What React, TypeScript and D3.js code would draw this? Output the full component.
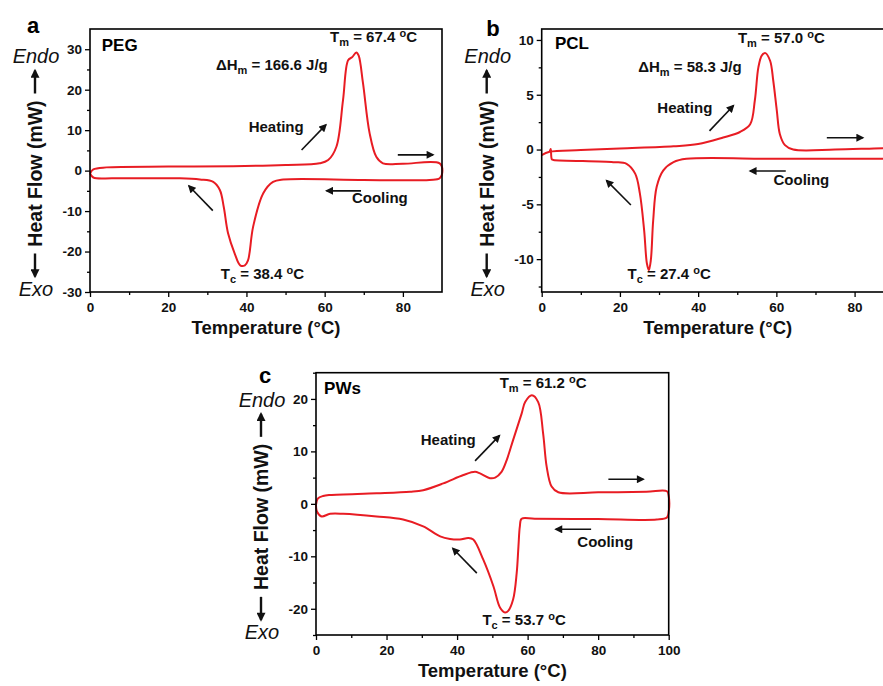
import React, { useEffect, useRef } from "react";
import * as d3 from "d3";

type Pt = [number, number];

// PEG loop: heating left -> right, then cooling right -> left
const pegHeating: Pt[] = [
  [0, -0.7], [0.85, 0.3], [4.2, 0.8], [20, 1.0], [36.6, 1.1], [50, 1.4], [58.7, 1.8],
  [60.9, 2.6], [63, 5.9], [64.7, 17.5], [66, 27.3], [67, 28], [68.1, 29.2], [68.7, 28.4],
  [69.8, 21.6], [71.5, 9.2], [73.2, 3.4], [74.9, 1.8], [80, 1.7], [89.4, 1.8], [90.1, 0.1],
];
const pegCooling: Pt[] = [
  [89.4, -1.9], [86.8, -2.3], [70, -2.3], [49.4, -2.2], [46.8, -2.8], [44.3, -5.6],
  [41.7, -13.9], [40.4, -22.2], [39.6, -23.4], [38.4, -23.4], [37.0, -20.5], [35.3, -15.5],
  [34.2, -9], [33.2, -4.8], [31.5, -2.8], [28.1, -2.2], [23, -1.9], [6, -1.9], [0.85, -1.7], [0, -0.7],
];

const pclHeating: Pt[] = [
  [0, -0.5], [2, -0.2], [10, -0.05], [20, 0.1], [33.7, 0.3], [40, 0.5], [46.4, 1.1], [50.7, 1.6],
  [53.3, 2.3], [54.5, 4.5], [55.4, 7.5], [56.3, 8.6], [57.2, 8.8], [58.4, 8.1], [59.2, 6.3],
  [60.1, 3.6], [60.9, 1.4], [62.2, 0.4], [64.3, 0], [75, 0], [85, 0.1], [88, 0.12], [90, 0.12],
];
const pclCooling: Pt[] = [
  [90, -0.85], [88, -0.85], [60, -0.85], [37, -0.85], [33.7, -1.15], [31.1, -1.9], [29.4, -3.4], [28.5, -6.5],
  [27.9, -10.1], [27.4, -11], [26.9, -10.4], [26.2, -7.4], [25.1, -4.0], [23.9, -2.2], [21.7, -1.3],
  [18.3, -1.15], [3, -0.95], [2.6, -0.9], [2.3, 0.05], [2.0, -0.25],
];

const pwsHeating: Pt[] = [
  [0, -0.2], [0.5, 1.0], [2, 1.5], [4, 1.7], [17.2, 2.0], [26.7, 2.3], [30.4, 2.6], [36.1, 3.9],
  [41.8, 5.5], [45.1, 6.1], [46.5, 5.8], [49.3, 4.9], [50.8, 5.0], [52.6, 6.1], [54.1, 8.4],
  [55.9, 12.2], [58.3, 17.2], [59.3, 19.4], [61.2, 20.7], [63, 19.4], [64.4, 13.4], [65.4, 7.1],
  [66.8, 3.3], [68.7, 2.2], [80, 2.2], [93.7, 2.3], [99.5, 2.4], [100, 1.5],
];
const pwsCooling: Pt[] = [
  [100, -1.5], [99.5, -2.6], [96.6, -3.0], [80, -2.9], [62, -2.85], [58.3, -2.85], [57.8, -4.3], [57.4, -8.1],
  [56.9, -13.2], [55.9, -18.2], [54.5, -20.4], [53.6, -20.7], [52.2, -19.8], [50.3, -15.7],
  [47.4, -10.6], [44.6, -6.8], [43.2, -6.5], [40.8, -6.8], [38, -6.7], [35.2, -6.2], [30.4, -4.3],
  [24.7, -3.0], [17.2, -2.4], [7.7, -1.9], [4, -1.9], [1.6, -2.4], [0.3, -1.5], [0, -0.2],
];

const pegYTicks = [-30, -20, -10, 0, 10, 20, 30];
const pclYTicks = [-10, -5, 0, 5, 10];
const pwsYTicks = [-20, -10, 0, 10, 20];
const xTicks90 = [0, 20, 40, 60, 80];
const xTicks100 = [0, 20, 40, 60, 80, 100];

const FONT = "'Liberation Sans', Arial, sans-serif";
const RED = "#e81c23";

type Part = { t: string; sub?: boolean; sup?: boolean };
type Note = { x: number; y: number; parts: Part[] };

const panels = [
  {
    letter: "a", name: "PEG", left: 90, top: 29, width: 352, height: 263,
    xDomain: [0, 90], yDomain: [-30, 35], xTicks: xTicks90, xMinor: [10, 30, 50, 70],
    yTicks: pegYTicks, yMinor: [-25, -15, -5, 5, 15, 25], heating: pegHeating, cooling: pegCooling,
    letterPos: [33, 25], namePos: [3.0, 31.0],
    notes: [
      { x: 72.5, y: 31.7, parts: [{ t: "T" }, { t: "m", sub: true }, { t: " = 67.4 " }, { t: "o", sup: true }, { t: "C" }] },
      { x: 46.5, y: 24.9, parts: [{ t: "\u0394H" }, { t: "m", sub: true }, { t: " = 166.6 J/g" }] },
      { x: 47.6, y: 9.6, parts: [{ t: "Heating" }] },
      { x: 74.1, y: -8.1, parts: [{ t: "Cooling" }] },
      { x: 44.1, y: -26.9, parts: [{ t: "T" }, { t: "c", sub: true }, { t: " = 38.4 " }, { t: "o", sup: true }, { t: "C" }] },
    ] as Note[],
    arrows: [[54.1, 5.1, 60.3, 11.3], [78.7, 3.9, 87.7, 3.9], [69.3, -5.0, 60.5, -5.0], [31.4, -9.9, 25.3, -3.8]],
  },
  {
    letter: "b", name: "PCL", left: 541.7, top: 29, width: 352, height: 263,
    xDomain: [0, 90], yDomain: [-13, 11], xTicks: xTicks90, xMinor: [10, 30, 50, 70, 90],
    yTicks: pclYTicks, yMinor: [-12.5, -7.5, -2.5, 2.5, 7.5], heating: pclHeating, cooling: pclCooling,
    letterPos: [493, 28], namePos: [3.4, 9.7],
    notes: [
      { x: 61.3, y: 9.75, parts: [{ t: "T" }, { t: "m", sub: true }, { t: " = 57.0 " }, { t: "o", sup: true }, { t: "C" }] },
      { x: 37.9, y: 7.1, parts: [{ t: "\u0394H" }, { t: "m", sub: true }, { t: " = 58.3 J/g" }] },
      { x: 36.6, y: 3.3, parts: [{ t: "Heating" }] },
      { x: 66.4, y: -3.24, parts: [{ t: "Cooling" }] },
      { x: 32.6, y: -11.8, parts: [{ t: "T" }, { t: "c", sub: true }, { t: " = 27.4 " }, { t: "o", sup: true }, { t: "C" }] },
    ] as Note[],
    arrows: [[42.9, 1.7, 49.0, 4.0], [72.9, 1.08, 82.1, 1.08], [62.4, -1.96, 53.3, -1.96], [22.8, -5.06, 16.6, -2.84]],
  },
  {
    letter: "c", name: "PWs", left: 316, top: 372.7, width: 352.7, height: 262.3,
    xDomain: [0, 100], yDomain: [-25, 25], xTicks: xTicks100, xMinor: [10, 30, 50, 70, 90],
    yTicks: pwsYTicks, yMinor: [-25, -15, -5, 5, 15, 25], heating: pwsHeating, cooling: pwsCooling,
    letterPos: [265, 375], namePos: [2.3, 22.0],
    notes: [
      { x: 64.4, y: 22.1, parts: [{ t: "T" }, { t: "m", sub: true }, { t: " = 61.2 " }, { t: "o", sup: true }, { t: "C" }] },
      { x: 37.5, y: 11.2, parts: [{ t: "Heating" }] },
      { x: 82.0, y: -8.2, parts: [{ t: "Cooling" }] },
      { x: 59.0, y: -23.1, parts: [{ t: "T" }, { t: "c", sub: true }, { t: " = 53.7 " }, { t: "o", sup: true }, { t: "C" }] },
    ] as Note[],
    arrows: [[45.1, 8.2, 52.0, 13.0], [82.9, 4.7, 92.8, 4.7], [78, -4.85, 68, -4.85], [45.6, -13.2, 38.8, -8.5]],
  },
];

function styleAxis(sel: any) {
  sel.select(".domain").remove();
  sel.selectAll("line").attr("stroke", "#000").attr("stroke-width", 1.3);
  sel.selectAll("text").attr("font-family", FONT).attr("font-size", 13.5)
    .attr("font-weight", "bold").attr("fill", "#111");
}

const plain = (d: any) => String(d);

function drawPanel(svg: any, p: any) {
  const x = d3.scaleLinear().domain(p.xDomain).range([p.left, p.left + p.width]);
  const y = d3.scaleLinear().domain(p.yDomain).range([p.top + p.height, p.top]);
  const bottom = p.top + p.height;
  const g = svg.append("g");

  const line = d3.line<Pt>()
    .x(d => x(d[0]))
    .y(d => y(d[1]))
    .curve(d3.curveCatmullRom.alpha(0.5));
  g.append("path")
    .datum(p.heating.concat(p.cooling))
    .attr("fill", "none")
    .attr("stroke", RED)
    .attr("stroke-width", 2)
    .attr("stroke-linejoin", "round")
    .attr("d", line);

  // axes
  g.append("g").attr("transform", `translate(0,${bottom})`)
    .call(d3.axisBottom(x).tickValues(p.xTicks).tickFormat(plain).tickSize(5).tickSizeOuter(0).tickPadding(5))
    .call(styleAxis);
  g.append("g").attr("transform", `translate(0,${bottom})`)
    .call(d3.axisBottom(x).tickValues(p.xMinor).tickSize(3).tickSizeOuter(0).tickFormat(() => ""))
    .call(styleAxis);
  g.append("g").attr("transform", `translate(${p.left},0)`)
    .call(d3.axisLeft(y).tickValues(p.yTicks).tickFormat(plain).tickSize(5).tickSizeOuter(0).tickPadding(3))
    .call(styleAxis);
  g.append("g").attr("transform", `translate(${p.left},0)`)
    .call(d3.axisLeft(y).tickValues(p.yMinor).tickSize(3).tickSizeOuter(0).tickFormat(() => ""))
    .call(styleAxis);

  g.append("rect")
    .attr("x", p.left).attr("y", p.top)
    .attr("width", p.width).attr("height", p.height)
    .attr("fill", "none").attr("stroke", "#000").attr("stroke-width", 1.6);

  // panel letter + sample name
  g.append("text").attr("x", p.letterPos[0]).attr("y", p.letterPos[1]).attr("dy", "0.35em")
    .attr("text-anchor", "middle").attr("font-family", FONT).attr("font-weight", "bold")
    .attr("font-size", 22).text(p.letter);
  g.append("text").attr("x", x(p.namePos[0])).attr("y", y(p.namePos[1])).attr("dy", "0.35em")
    .attr("font-family", FONT).attr("font-weight", "bold").attr("font-size", 17).text(p.name);

  // annotations
  p.notes.forEach((n: Note) => {
    const t = g.append("text").attr("x", x(n.x)).attr("y", y(n.y)).attr("dy", "0.35em")
      .attr("text-anchor", "middle").attr("font-family", FONT).attr("font-weight", "bold")
      .attr("font-size", 15).attr("fill", "#111");
    let shift = 0;
    n.parts.forEach(part => {
      const target = part.sub ? 4 : part.sup ? -5 : 0;
      t.append("tspan")
        .attr("dy", target - shift)
        .attr("font-size", part.sub || part.sup ? 11 : 15)
        .text(part.t);
      shift = target;
    });
  });

  p.arrows.forEach((a: number[]) => {
    g.append("line")
      .attr("x1", x(a[0])).attr("y1", y(a[1]))
      .attr("x2", x(a[2])).attr("y2", y(a[3]))
      .attr("stroke", "#111").attr("stroke-width", 1.6)
      .attr("marker-end", "url(#head)");
  });

  // x title
  g.append("text").attr("x", p.left + p.width / 2).attr("y", bottom + 42)
    .attr("text-anchor", "middle").attr("font-family", FONT).attr("font-weight", "bold")
    .attr("font-size", 18.5).attr("fill", "#111")
    .text("Temperature (\u00b0C)");

  // y title with Endo / Exo
  const cx = p.left - 55;
  const cy = p.top + p.height / 2 + 13;
  g.append("text").attr("transform", `translate(${cx},${cy}) rotate(-90)`).attr("dy", "0.35em")
    .attr("text-anchor", "middle").attr("font-family", FONT).attr("font-weight", "bold")
    .attr("font-size", 19.5).attr("fill", "#111").text("Heat Flow (mW)");
  g.append("line").attr("x1", cx).attr("x2", cx).attr("y1", cy - 80).attr("y2", cy - 103)
    .attr("stroke", "#111").attr("stroke-width", 2.4).attr("marker-end", "url(#bighead)");
  g.append("line").attr("x1", cx).attr("x2", cx).attr("y1", cy + 80).attr("y2", cy + 103)
    .attr("stroke", "#111").attr("stroke-width", 2.4).attr("marker-end", "url(#bighead)");
  g.append("text").attr("x", cx + 1).attr("y", p.top + 27).attr("dy", "0.35em")
    .attr("text-anchor", "middle").attr("font-family", FONT).attr("font-style", "italic")
    .attr("font-size", 20).attr("fill", "#111").text("Endo");
  g.append("text").attr("x", cx + 1).attr("y", bottom - 3).attr("dy", "0.35em")
    .attr("text-anchor", "middle").attr("font-family", FONT).attr("font-style", "italic")
    .attr("font-size", 20).attr("fill", "#111").text("Exo");
}

export default function App() {
  const ref = useRef<SVGSVGElement>(null);

  useEffect(() => {
    const svg = d3.select(ref.current);
    svg.selectAll("*").remove();
    const defs = svg.append("defs");
    defs.append("marker").attr("id", "head").attr("viewBox", "0 0 10 10")
      .attr("refX", 8).attr("refY", 5).attr("markerWidth", 9).attr("markerHeight", 8)
      .attr("markerUnits", "userSpaceOnUse").attr("orient", "auto")
      .append("path").attr("d", "M0,0L10,5L0,10z").attr("fill", "#111");
    defs.append("marker").attr("id", "bighead").attr("viewBox", "0 0 10 10")
      .attr("refX", 8).attr("refY", 5).attr("markerWidth", 10).attr("markerHeight", 9)
      .attr("markerUnits", "userSpaceOnUse").attr("orient", "auto")
      .append("path").attr("d", "M0,0L10,5L0,10z").attr("fill", "#111");
    panels.forEach(p => drawPanel(svg, p));
  }, []);

  return (
    <svg
      ref={ref}
      width={883}
      height={686}
      style={{ position: "absolute", left: 0, top: 0, background: "#fff" }}
    />
  );
}
